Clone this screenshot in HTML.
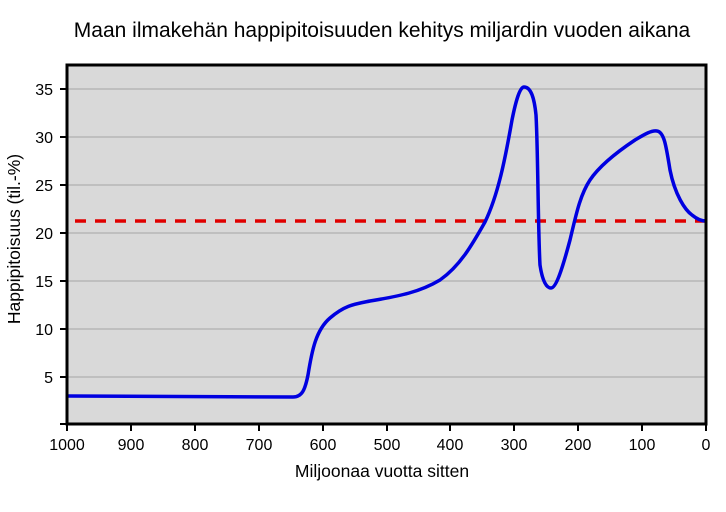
<!DOCTYPE html>
<html><head><style>body{margin:0;background:#fff}svg{display:block}</style></head><body>
<svg width="726" height="512" xmlns="http://www.w3.org/2000/svg" font-family="Liberation Sans, sans-serif">
<rect width="726" height="512" fill="#fff"/>
<text x="382" y="37" font-size="21" text-anchor="middle">Maan ilmakehän happipitoisuuden kehitys miljardin vuoden aikana</text>
<rect x="67" y="65" width="639" height="359" fill="#d9d9d9"/>
<g stroke="#bfbfbf" stroke-width="2">
<line x1="68" x2="705" y1="89" y2="89"/><line x1="68" x2="705" y1="137" y2="137"/><line x1="68" x2="705" y1="185" y2="185"/><line x1="68" x2="705" y1="233" y2="233"/><line x1="68" x2="705" y1="281" y2="281"/><line x1="68" x2="705" y1="329" y2="329"/><line x1="68" x2="705" y1="377" y2="377"/>
</g>
<line x1="75" x2="706" y1="221" y2="221" stroke="#e00000" stroke-width="3.5" stroke-dasharray="11,9"/>
<path d="M67,396 L293,397 C302,397 305,390 308,375 C312,350 316,330 330,318 C345,305 355,304 370,301 C400,296 420,292 440,280 C460,266 472,245 485,222 C498,195 505,160 512,120 C516,100 520,87 524,87 C530,87 534,95 536,115 C538,150 538,230 540,265 C543,285 548,288 551,288 C556,288 562,270 570,240 C576,215 580,195 590,180 C600,165 620,150 635,140 C645,134 652,130 657,131 C664,132 666,145 670,170 C675,195 685,210 692,215 C698,220 702,221 706,221" fill="none" stroke="#0000e0" stroke-width="3.5"/>
<rect x="67" y="65" width="639" height="359" fill="none" stroke="#000" stroke-width="3"/>
<g stroke="#000" stroke-width="2">
<line x1="60" x2="67" y1="89" y2="89"/><line x1="60" x2="67" y1="137" y2="137"/><line x1="60" x2="67" y1="185" y2="185"/><line x1="60" x2="67" y1="233" y2="233"/><line x1="60" x2="67" y1="281" y2="281"/><line x1="60" x2="67" y1="329" y2="329"/><line x1="60" x2="67" y1="377" y2="377"/><line x1="60" x2="67" y1="424" y2="424"/>
<line x1="67" x2="67" y1="424" y2="431"/><line x1="131" x2="131" y1="424" y2="431"/><line x1="195" x2="195" y1="424" y2="431"/><line x1="259" x2="259" y1="424" y2="431"/><line x1="323" x2="323" y1="424" y2="431"/><line x1="387" x2="387" y1="424" y2="431"/><line x1="450" x2="450" y1="424" y2="431"/><line x1="514" x2="514" y1="424" y2="431"/><line x1="578" x2="578" y1="424" y2="431"/><line x1="642" x2="642" y1="424" y2="431"/><line x1="706" x2="706" y1="424" y2="431"/>
</g>
<g font-size="16" text-anchor="end">
<text x="53" y="95">35</text><text x="53" y="143">30</text><text x="53" y="191">25</text><text x="53" y="239">20</text><text x="53" y="287">15</text><text x="53" y="335">10</text><text x="53" y="383">5</text>
</g>
<g font-size="16" text-anchor="middle">
<text x="67" y="450">1000</text><text x="131" y="450">900</text><text x="195" y="450">800</text><text x="259" y="450">700</text><text x="323" y="450">600</text><text x="387" y="450">500</text><text x="450" y="450">400</text><text x="514" y="450">300</text><text x="578" y="450">200</text><text x="642" y="450">100</text><text x="706" y="450">0</text>
</g>
<text x="382" y="477" font-size="17.5" text-anchor="middle">Miljoonaa vuotta sitten</text>
<text x="0" y="0" font-size="17.5" text-anchor="middle" transform="translate(20,239) rotate(-90)">Happipitoisuus (til.-%)</text>
</svg>
</body></html>
